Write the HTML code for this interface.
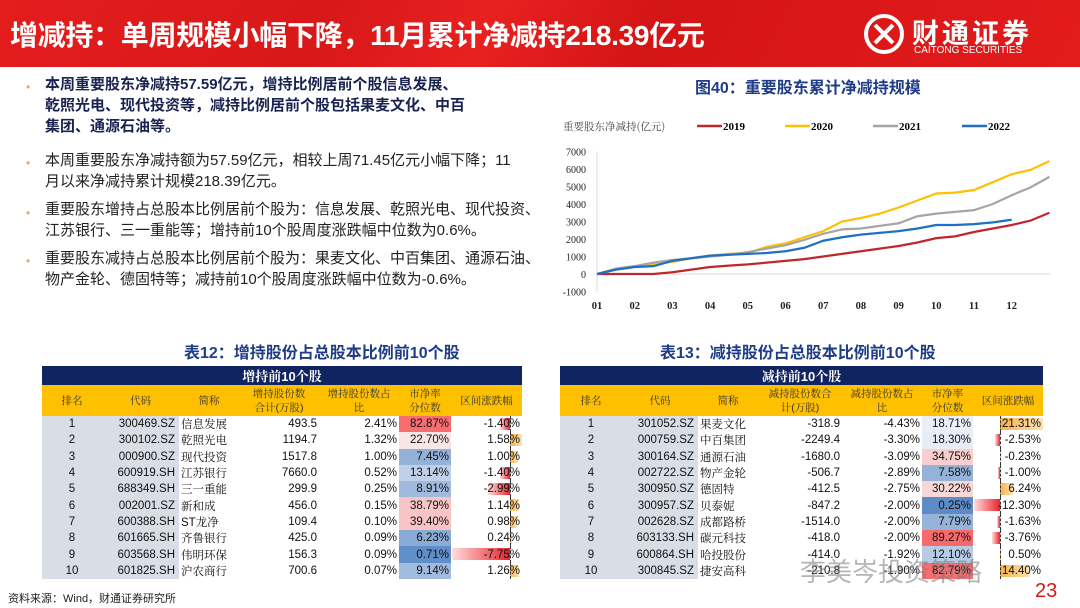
<!DOCTYPE html>
<html><head><meta charset="utf-8"><style>
body{margin:0;width:1080px;height:608px;overflow:hidden;background:#fff;font-family:"Liberation Sans","Noto Sans CJK SC",sans-serif;position:relative}
.hdr{position:absolute;left:0;top:0;width:1080px;height:67px;background:linear-gradient(115deg,#e41d1d 0%,#d81818 30%,#e82020 45%,#d41515 60%,#e31b1b 100%)}
.title{position:absolute;left:10px;top:14px;color:#fff;font-size:28px;font-weight:bold;white-space:nowrap;letter-spacing:-0.3px}
.logo{position:absolute;left:862px;top:12px;color:#fff}
.bul{position:absolute;left:45px;font-size:15px;line-height:21px;color:#222;white-space:nowrap}
.dot{position:absolute;left:26px;color:#e8a86a;font-size:12px}
.ttl{position:absolute;color:#1f3c88;font-weight:bold;font-size:16px;white-space:nowrap}
table{position:absolute;border-collapse:collapse;table-layout:fixed;font-family:"Liberation Sans","Noto Serif CJK SC",serif;font-size:11.5px;color:#111}
td{height:16.3px;padding:0 2px;white-space:nowrap;overflow:hidden}
.cap td{background:#0f2460;color:#fff;font-weight:bold;text-align:center;height:18px;font-size:13px}
.hd td{background:#ffc000;color:#333;text-align:center;height:31px;font-size:10.5px;line-height:14px}
.g{background:#d9dee6}
.r{text-align:right}.c{text-align:center}
.chg{position:relative;text-align:right}
</style></head><body>
<div class="hdr"></div>
<div class="title">增减持：单周规模小幅下降，11月累计净减持218.39亿元</div>
<div class="logo">
<svg width="44" height="46" style="position:absolute;left:0;top:0"><circle cx="22" cy="22" r="18" fill="none" stroke="#fff" stroke-width="4"/><path d="M13 13 L31 31 M31 13 L13 31" stroke="#fff" stroke-width="4"/></svg>
<div style="position:absolute;left:50px;top:0px;font-size:27px;font-weight:bold;white-space:nowrap;letter-spacing:3px">财通证券</div>
<div style="position:absolute;left:52px;top:33px;font-size:10px;white-space:nowrap">CAITONG SECURITIES</div>
</div>

<div class="dot" style="top:80px">•</div>
<div class="bul" style="top:74px;font-weight:bold;color:#1a2350">本周重要股东净减持57.59亿元，增持比例居前个股信息发展、<br>乾照光电、现代投资等，减持比例居前个股包括果麦文化、中百<br>集团、通源石油等。</div>
<div class="dot" style="top:156px">•</div>
<div class="bul" style="top:150px">本周重要股东净减持额为57.59亿元，相较上周71.45亿元小幅下降；11<br>月以来净减持累计规模218.39亿元。</div>
<div class="dot" style="top:206px">•</div>
<div class="bul" style="top:199px;width:506px;overflow:hidden">重要股东增持占总股本比例居前个股为：信息发展、乾照光电、现代投资、<br>江苏银行、三一重能等；增持前10个股周度涨跌幅中位数为0.6%。</div>
<div class="dot" style="top:254px">•</div>
<div class="bul" style="top:248px;width:506px;overflow:hidden">重要股东减持占总股本比例居前个股为：果麦文化、中百集团、通源石油、<br>物产金轮、德固特等；减持前10个股周度涨跌幅中位数为-0.6%。</div>

<div class="ttl" style="left:695px;top:74px">图40：重要股东累计净减持规模</div>
<div class="ttl" style="left:184px;top:339px">表12：增持股份占总股本比例前10个股</div>
<div class="ttl" style="left:660px;top:339px">表13：减持股份占总股本比例前10个股</div>

<svg id="chart" style="position:absolute;left:0;top:0" width="1080" height="330"></svg>

<table id="t1" style="left:42px;top:366px;width:480px"></table>
<table id="t2" style="left:560px;top:366px;width:483px"></table>

<div style="position:absolute;left:8px;top:590px;font-size:11px;color:#222">资料来源：Wind，财通证券研究所</div>
<div style="position:absolute;left:1035px;top:580px;font-size:20px;color:#d81818">23</div>
<div style="position:absolute;left:800px;top:552px;font-size:26px;color:rgba(120,120,120,0.55);white-space:nowrap">李美岑投资策略</div>

<script>
const months=["01","02","03","04","05","06","07","08","09","10","11","12"];
const yTicks=[-1000,0,1000,2000,3000,4000,5000,6000,7000];
const years=["2019","2020","2021","2022"];
const colors=["#c0272d","#ffc000","#a5a5a5","#1f6fc6"];
const pos=[0,0.5,1,1.5,2,2.5,3,3.5,4,4.5,5,5.5,6,6.5,7,7.5,8,8.5,9,9.5,10,10.5,11,11.5,12];
const s2019=[0,0,0,0,100,250,400,480,550,650,750,850,1000,1150,1300,1450,1600,1800,2050,2150,2400,2600,2800,3050,3500];
const s2020=[0,300,450,550,700,900,1050,1150,1200,1550,1750,2100,2450,3000,3200,3450,3800,4200,4600,4650,4800,5250,5700,5950,6450];
const s2021=[0,300,450,650,800,900,1000,1100,1250,1450,1650,1950,2300,2550,2600,2750,2900,3300,3450,3550,3650,4000,4500,4950,5550];
const s2022=[0,250,400,450,750,900,1050,1100,1150,1200,1300,1500,1900,2100,2250,2350,2450,2600,2800,2800,2850,2950,3100];
const series=[s2019,s2020,s2021,s2022];
const svg=document.getElementById('chart');
const NS="http://www.w3.org/2000/svg";
const X=m=>597+m*37.7, Y=v=>274-v*0.0175;
function mk(t,a){const e=document.createElementNS(NS,t);for(const k in a)e.setAttribute(k,a[k]);svg.appendChild(e);return e;}
let ax=mk('line',{x1:597,y1:Y(7000),x2:597,y2:Y(-1000),stroke:'#d9d9d9'});


let bx=mk('line',{x1:597,y1:Y(0),x2:1050,y2:Y(0),stroke:'#d9d9d9'});


yTicks.forEach(v=>{const t=mk('text',{x:586,y:Y(v)+4,'text-anchor':'end','font-size':10,'font-family':'Liberation Serif,serif',fill:'#222'});t.textContent=v;

});
months.forEach((m,i)=>{const t=mk('text',{x:X(i),y:309,'text-anchor':'middle','font-size':10.5,'font-weight':'bold','font-family':'Liberation Serif,serif',fill:'#222'});t.textContent=m;

});
series.forEach((s,k)=>{const p=mk('polyline',{points:s.map((v,i)=>X(pos[i])+','+Y(v)).join(' '),fill:'none',stroke:colors[k],'stroke-width':2.2});

});
let lt=mk('text',{x:563,y:130,'font-size':10.5,fill:'#444','font-family':'Noto Serif CJK SC,serif'});lt.textContent='重要股东净减持(亿元)';


const lx=[697,785,873,962];
years.forEach((y,k)=>{const l=mk('line',{x1:lx[k],y1:126,x2:lx[k]+25,y2:126,stroke:colors[k],'stroke-width':2.5});


const t=mk('text',{x:lx[k]+26,y:130,'font-size':11,'font-weight':'bold','font-family':'Liberation Serif,serif'});t.textContent=y;

});

const inc=[["300469.SZ","信息发展","493.5","2.41%",82.87,-1.40],["300102.SZ","乾照光电","1194.7","1.32%",22.70,1.58],["000900.SZ","现代投资","1517.8","1.00%",7.45,1.00],["600919.SH","江苏银行","7660.0","0.52%",13.14,-1.40],["688349.SH","三一重能","299.9","0.25%",8.91,-2.99],["002001.SZ","新和成","456.0","0.15%",38.79,1.14],["600388.SH","ST龙净","109.4","0.10%",39.40,0.98],["601665.SH","齐鲁银行","425.0","0.09%",6.23,0.24],["603568.SH","伟明环保","156.3","0.09%",0.71,-7.75],["601825.SH","沪农商行","700.6","0.07%",9.14,1.26]];
const dec=[["301052.SZ","果麦文化","-318.9","-4.43%",18.71,21.31],["000759.SZ","中百集团","-2249.4","-3.30%",18.30,-2.53],["300164.SZ","通源石油","-1680.0","-3.09%",34.75,-0.23],["002722.SZ","物产金轮","-506.7","-2.89%",7.58,-1.00],["300950.SZ","德固特","-412.5","-2.75%",30.22,6.24],["300957.SZ","贝泰妮","-847.2","-2.00%",0.25,-12.30],["002628.SZ","成都路桥","-1514.0","-2.00%",7.79,-1.63],["603133.SH","碳元科技","-418.0","-2.00%",89.27,-3.76],["600864.SH","哈投股份","-414.0","-1.92%",12.10,0.50],["300845.SZ","捷安高科","-210.8","-1.90%",82.79,14.40]];
function pbColor(v){ if(v>=20){const t=Math.min(1,(v-20)/65);const g=Math.round(235-t*130),b=Math.round(235-t*128);return `rgb(248,${g},${b})`;} const t=Math.min(1,(20-v)/20);return `rgb(${Math.round(245-t*155)},${Math.round(245-t*107)},${Math.round(250-t*52)})`;}
function build(id,cap,h1,h2,data,axisX,scale,w,right){
 const t=document.getElementById(id);
 let html=`<colgroup>${w.map(x=>`<col style="width:${x}px">`).join('')}</colgroup><tr class="cap"><td colspan="7">${cap}</td></tr><tr class="hd"><td>排名</td><td>代码</td><td>简称</td><td>${h1}</td><td>${h2}</td><td>市净率<br>分位数</td><td>区间涨跌幅</td></tr>`;
 data.forEach((r,i)=>{const c=r[5];const bw=Math.min(Math.abs(c)*scale,c>=0?right-axisX:axisX);const bar=c>=0?`<div style="position:absolute;left:${axisX}px;top:2px;height:12px;width:${bw}px;background:linear-gradient(90deg,#f6b24a,#fde3b5)"></div>`:`<div style="position:absolute;left:${axisX-bw}px;top:2px;height:12px;width:${bw}px;background:linear-gradient(90deg,#fdd,#e8232b)"></div>`;
 html+=`<tr><td class="c g">${i+1}</td><td class="r g" style="padding-right:4px">${r[0]}</td><td>${r[1]}</td><td class="r">${r[2]}</td><td class="r">${r[3]}</td><td class="r" style="background:${pbColor(r[4])}">${r[4].toFixed(2)}%</td><td class="chg">${bar}<div style="position:absolute;left:${axisX}px;top:0;bottom:0;border-left:1px dashed #333"></div><span style="position:relative">${c.toFixed(2)}%</span></td></tr>`;});
 t.innerHTML=html;}
build('t1','增持前10个股','增持股份数<br>合计(万股)','增持股份数占<br>比',inc,59,7.5,[60,77,60,80,80,52,71],71);
build('t2','减持前10个股','减持股份数合<br>计(万股)','减持股份数占<br>比',dec,27,2.1,[62,76,60,84,80,51,70],70);
</script>
</body></html>
